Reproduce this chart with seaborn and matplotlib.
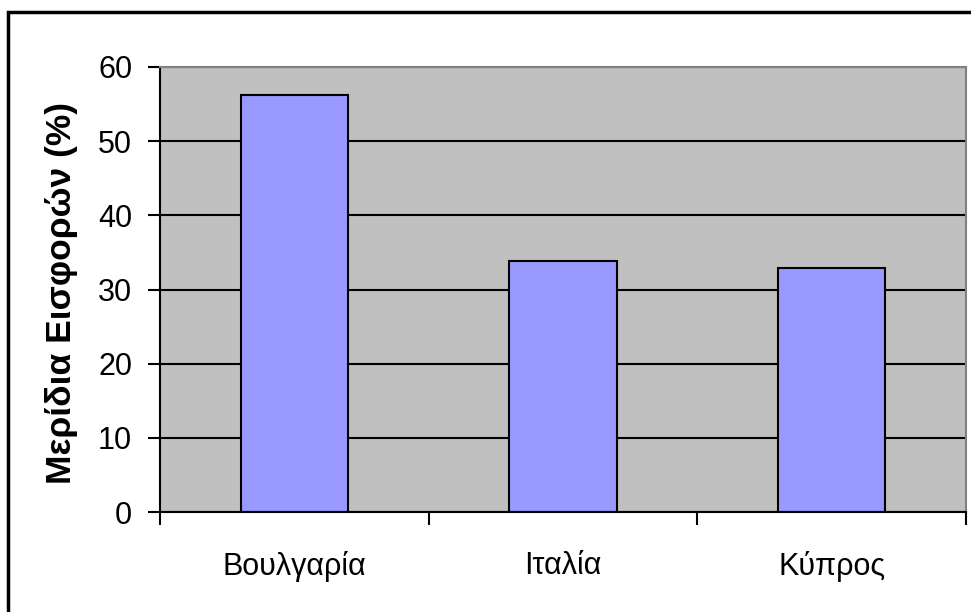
import matplotlib
matplotlib.use("Agg")
import matplotlib.pyplot as plt
import seaborn as sns
import pandas as pd
from matplotlib.patches import Rectangle

countries = ["Βουλγαρία", "Ιταλία", "Κύπρος"]
shares = [56.2, 33.9, 32.9]

df = pd.DataFrame({"country": countries, "share": shares})

sns.set_style("white")
plt.rcParams["font.family"] = ["Liberation Sans", "DejaVu Sans"]
plt.rcParams["text.color"] = "black"
plt.rcParams["xtick.color"] = "black"
plt.rcParams["ytick.color"] = "black"

fig = plt.figure(figsize=(9.71, 6.12), dpi=100, facecolor="white")
ax = fig.add_axes([160 / 971, 100 / 612, 806 / 971, 445 / 612])
ax.set_facecolor("#C0C0C0")

ax.set_axisbelow(True)
ax.yaxis.grid(True, color="black", linewidth=1.5)

sns.barplot(data=df, x="country", y="share", color="#9999FF", saturation=1,
            width=0.4, edgecolor="black", linewidth=1.5, ax=ax)

ax.set_xlim(-0.5, 2.5)
ax.set_ylim(0, 60)
ax.set_yticks(range(0, 61, 10))
ax.set_xticks([-0.5, 0.5, 1.5, 2.5], minor=True)
ax.tick_params(axis="x", which="major", length=0, labelsize=22, pad=28, labelcolor="black")
ax.tick_params(axis="x", which="minor", bottom=True, length=9, width=1.5, color="black", direction="out")
ax.tick_params(axis="y", left=True, length=9, width=1.5, color="black", direction="out",
               labelsize=22, pad=11, labelcolor="black")

for side in ["left", "bottom"]:
    ax.spines[side].set_color("black")
    ax.spines[side].set_linewidth(1.5)
for side in ["top", "right"]:
    ax.spines[side].set_visible(True)
    ax.spines[side].set_color("#808080")
    ax.spines[side].set_linewidth(1.5)

ax.set_xlabel("")
ax.set_ylabel("Μερίδια Εισφορών (%)", fontsize=25.5, fontweight="bold", color="black")
ax.yaxis.set_label_coords(-82 / 806, (612 - 100 - 293) / 445)

fig.patches.append(Rectangle((8 / 971, -0.1), 1.2, (600 / 612) + 0.1,
                             transform=fig.transFigure, fill=False,
                             edgecolor="black", linewidth=2.5))

fig.savefig("out.png", dpi=100, facecolor="white")
